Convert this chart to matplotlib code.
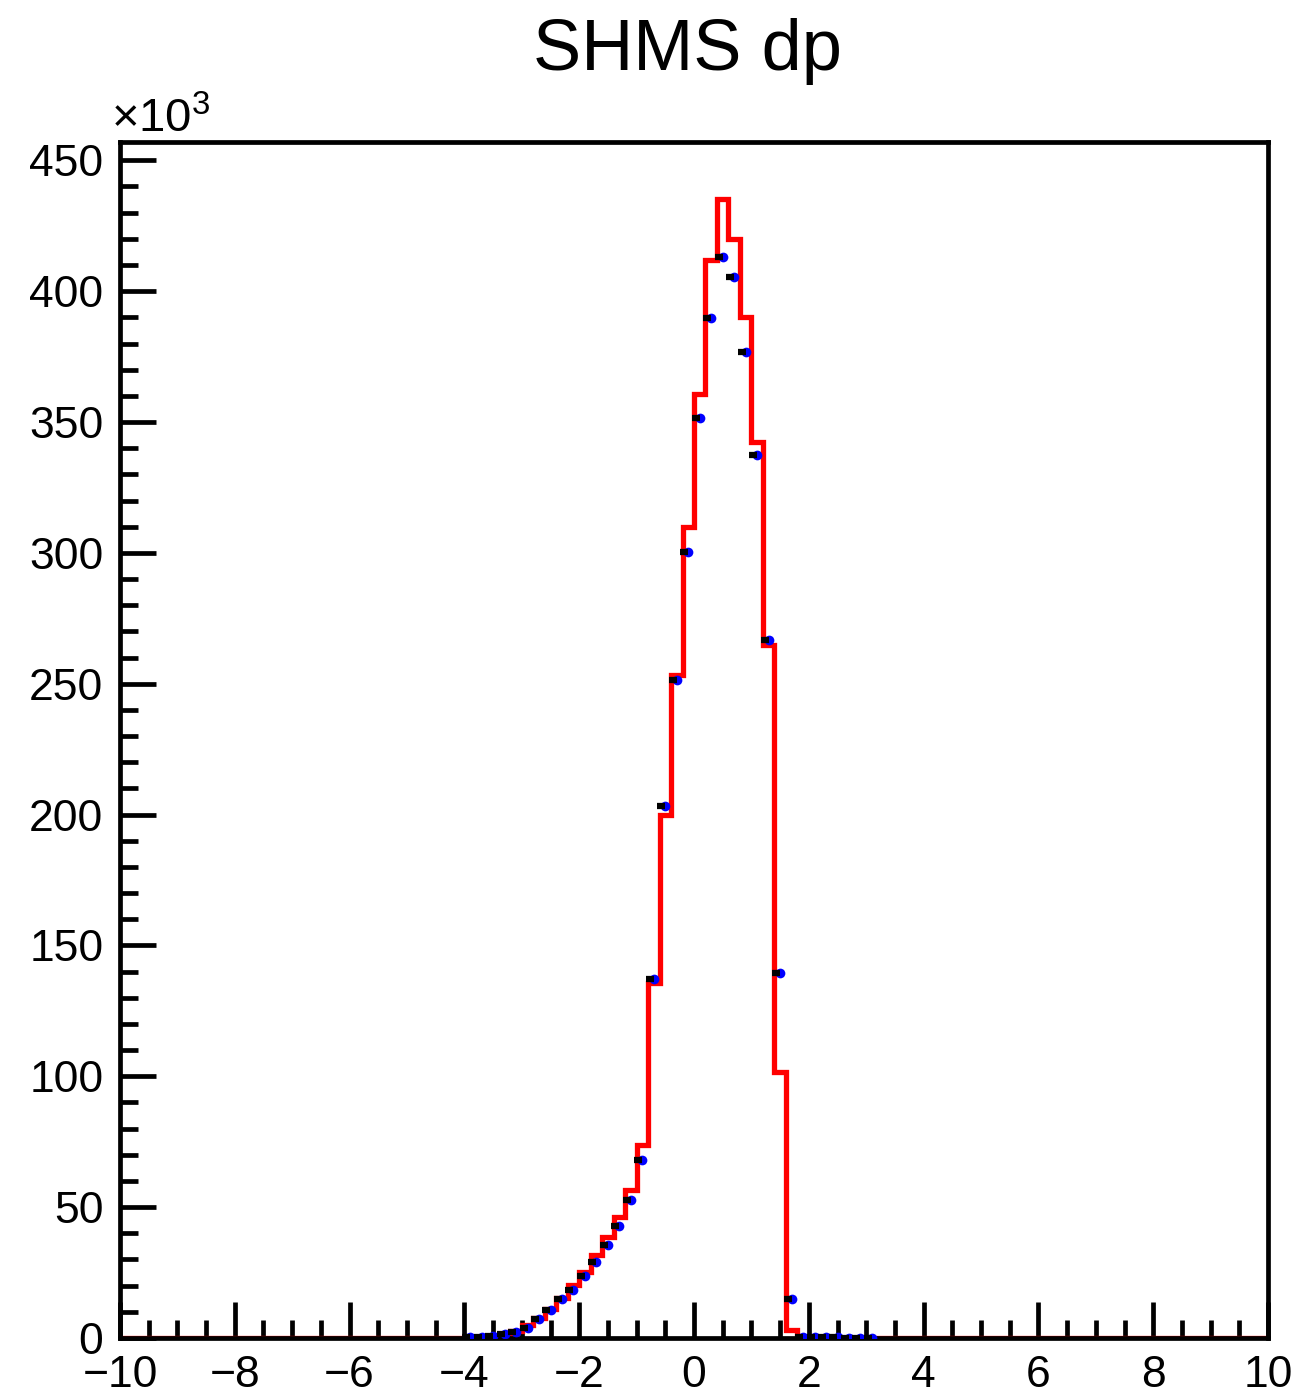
import numpy as np
import matplotlib.pyplot as plt
from matplotlib.ticker import MultipleLocator

plt.rcParams['font.family'] = ['Liberation Sans', 'DejaVu Sans']
plt.rcParams['mathtext.fontset'] = 'custom'
plt.rcParams['mathtext.rm'] = 'Liberation Sans'

# histogram binning: 100 bins from -10 to 10
edges = np.linspace(-10, 10, 101)
centers = 0.5 * (edges[:-1] + edges[1:])

# simulation (red), counts in units of 1e3, bins starting at dp = -3.6
mc_start = -3.6
mc_vals = [0.4, 1.2, 2.5, 5.0, 7.6, 11.1, 15.3, 20.2, 25.3, 31.7, 38.7, 46.3,
           56.5, 73.7, 135.5, 200.0, 253.3, 309.7, 360.8, 411.8, 435.3, 420.1,
           390.1, 342.4, 264.7, 101.7, 3.0]

# data (blue points), counts in units of 1e3, bins starting at dp = -4.0
data_start = -4.0
data_vals = [0.2, 0.4, 0.9, 1.5, 2.4, 4.0, 7.2, 10.6, 14.9, 18.5, 23.8, 29.2,
             35.4, 42.8, 52.9, 68.0, 137.1, 203.2, 251.3, 300.2, 351.4, 389.6,
             413.0, 405.3, 376.6, 337.3, 266.6, 139.4, 14.9, 0.3, 0.2, 0.2,
             0.2, 0.1, 0.1, 0.1]


def fill_bins(start, vals):
    h = np.zeros(len(centers))
    i0 = int(round((start - edges[0]) / 0.2))
    h[i0:i0 + len(vals)] = vals
    return h


mc = fill_bins(mc_start, mc_vals)
data = fill_bins(data_start, data_vals)
mask = data > 0

fig = plt.figure(figsize=(12.92, 13.95), dpi=100)
ax = fig.add_axes([120 / 1292, 1 - 1338 / 1395, 1148 / 1292, 1196 / 1395])

ax.stairs(mc, edges, color='red', lw=3.8, zorder=2)
ax.plot(centers[mask], data[mask], 'o', color='blue', ms=7, mew=0, zorder=3)
ax.plot(centers[mask] - 0.07, data[mask], '_', color='black', ms=6, mew=4.5, zorder=4)

ax.set_xlim(-10, 10)
ax.set_ylim(0, 457)

ax.xaxis.set_major_locator(MultipleLocator(2))
ax.xaxis.set_minor_locator(MultipleLocator(0.5))
ax.yaxis.set_major_locator(MultipleLocator(50))
ax.yaxis.set_minor_locator(MultipleLocator(10))
ax.tick_params(which='both', direction='in', top=False, right=False, width=3.4,
               labelsize=32)
ax.tick_params(which='major', length=26)
ax.tick_params(which='minor', length=13)
ax.tick_params(axis='x', pad=12)
ax.tick_params(axis='y', pad=12)
for s in ax.spines.values():
    s.set_linewidth(3.4)

fig.text(0.5325, 0.963, 'SHMS dp', fontsize=52, ha='center', va='center')
fig.text(0.086, 0.905, r'$\times10^{3}$', fontsize=34, ha='left', va='baseline')

fig.savefig('out.png', dpi=100)
